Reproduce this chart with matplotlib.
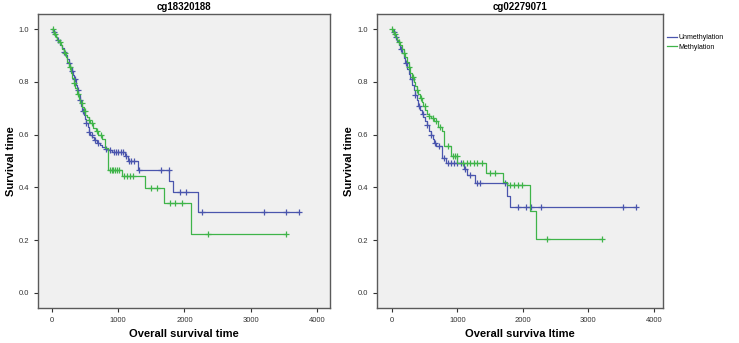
import numpy as np
import matplotlib
matplotlib.use("Agg")
import matplotlib.pyplot as plt

plt.rcParams['font.family'] = ['Liberation Sans', 'DejaVu Sans']

# ---- left panel: cg18320188 ----
l_unm_t = [15, 35, 55, 75, 100, 125, 150, 175, 200, 225, 250, 275, 300, 320, 340, 360, 380,
           400, 420, 440, 460, 480, 500, 520, 540, 555, 580, 610, 640, 680, 720, 760, 800,
           850, 900, 1100, 1150, 1300, 1770, 1820, 2200]
l_unm_s = [0.99, 0.98, 0.97, 0.96, 0.95, 0.94, 0.93, 0.915, 0.90, 0.885, 0.87, 0.855, 0.84,
           0.825, 0.81, 0.79, 0.77, 0.75, 0.73, 0.71, 0.69, 0.675, 0.66, 0.645, 0.63, 0.61,
           0.60, 0.59, 0.58, 0.57, 0.56, 0.555, 0.545, 0.54, 0.535, 0.52, 0.50, 0.465, 0.425,
           0.383, 0.308]
l_unm_c = [30, 90, 180, 260, 310, 350, 390, 430, 470, 520, 560, 600, 650, 700, 820, 880,
           930, 960, 1000, 1040, 1080, 1120, 1170, 1200, 1240, 1310, 1650, 1760, 1930, 2030,
           2270, 3200, 3530, 3730]

l_met_t = [15, 35, 55, 80, 105, 130, 155, 180, 205, 230, 255, 280, 305, 330, 355, 380, 405,
           430, 455, 480, 505, 530, 555, 580, 620, 660, 700, 750, 800, 850, 1050, 1400, 1690,
           2100]
l_met_s = [0.99, 0.98, 0.97, 0.96, 0.95, 0.94, 0.925, 0.91, 0.895, 0.875, 0.855, 0.835, 0.815,
           0.795, 0.775, 0.755, 0.735, 0.72, 0.705, 0.69, 0.675, 0.665, 0.655, 0.645, 0.625,
           0.615, 0.60, 0.585, 0.55, 0.467, 0.442, 0.398, 0.341, 0.224]
l_met_c = [10, 45, 120, 200, 270, 340, 400, 450, 500, 560, 610, 680, 740, 880, 900, 920,
           950, 980, 1010, 1090, 1130, 1180, 1220, 1500, 1580, 1780, 1860, 1960, 2350, 3530]

# ---- right panel: cg02279071 ----
r_unm_t = [15, 35, 55, 80, 105, 130, 155, 180, 205, 230, 255, 280, 305, 330, 355, 380, 405,
           430, 455, 480, 505, 530, 560, 590, 620, 650, 680, 760, 830, 1100, 1150, 1270, 1750,
           1810]
r_unm_s = [0.99, 0.98, 0.97, 0.955, 0.94, 0.925, 0.91, 0.89, 0.87, 0.85, 0.83, 0.81, 0.79,
           0.77, 0.75, 0.73, 0.71, 0.695, 0.68, 0.665, 0.65, 0.635, 0.615, 0.60, 0.585, 0.57,
           0.556, 0.51, 0.492, 0.47, 0.448, 0.417, 0.366, 0.325]
r_unm_c = [25, 70, 140, 220, 300, 360, 420, 470, 540, 600, 660, 720, 800, 860, 900, 950,
           1000, 1050, 1120, 1200, 1300, 1350, 1720, 1930, 2040, 2130, 2270, 3530, 3730]

r_met_t = [15, 35, 55, 80, 105, 130, 155, 180, 205, 230, 255, 280, 305, 330, 355, 380, 405,
           430, 455, 480, 505, 530, 560, 600, 650, 700, 760, 800, 900, 1000, 1430, 1700, 1760,
           2110, 2195]
r_met_s = [0.99, 0.98, 0.97, 0.96, 0.95, 0.94, 0.925, 0.91, 0.895, 0.875, 0.855, 0.835, 0.82,
           0.80, 0.785, 0.77, 0.755, 0.74, 0.725, 0.71, 0.695, 0.68, 0.67, 0.663, 0.65, 0.63,
           0.612, 0.556, 0.518, 0.492, 0.455, 0.42, 0.41, 0.31, 0.206]
r_met_c = [5, 45, 110, 190, 260, 320, 380, 440, 500, 560, 620, 680, 740, 860, 930, 960, 990,
           1080, 1150, 1200, 1250, 1300, 1380, 1500, 1580, 1800, 1860, 1920, 1980, 2370, 3210]

titles = ["cg18320188", "cg02279071"]
xlabels = ["Overall survival time", "Overall surviva ltime"]
group_names = ["Unmethylation", "Methylation"]
xticks = [0, 1000, 2000, 3000, 4000]
yticks = [0.0, 0.2, 0.4, 0.6, 0.8, 1.0]

blue = "#4a55ad"
green = "#3fb449"


def surv_at(times, surv, t):
    i = np.searchsorted(times, t, side="right")
    return 1.0 if i == 0 else surv[i - 1]


def km_plot(ax, times, surv, cens, color, label):
    times = np.array(times)
    surv = np.array(surv)
    end = max(max(cens), times[-1])
    xs = np.concatenate([[0], times, [end]])
    ys = np.concatenate([[1.0], surv, [surv[-1]]])
    ax.step(xs, ys, where="post", color=color, lw=0.9, label=label)
    cy = [surv_at(times, surv, c) for c in cens]
    ax.plot(cens, cy, ls="none", marker="+", ms=4, mew=0.9, color=color)


fig = plt.figure(figsize=(7.39, 3.43), dpi=100)
fig.patch.set_facecolor("white")
ax1 = fig.add_axes([0.0514, 0.102, 0.395, 0.857])
ax2 = fig.add_axes([0.510, 0.102, 0.387, 0.857])

km_plot(ax1, l_unm_t, l_unm_s, l_unm_c, blue, group_names[0])
km_plot(ax1, l_met_t, l_met_s, l_met_c, green, group_names[1])
km_plot(ax2, r_unm_t, r_unm_s, r_unm_c, blue, group_names[0])
km_plot(ax2, r_met_t, r_met_s, r_met_c, green, group_names[1])

ax1.set_xlim(-211, 4196)
ax2.set_xlim(-229, 4137)
for i, ax in enumerate([ax1, ax2]):
    ax.set_ylim(-0.057, 1.057)
    ax.set_facecolor("#f0f0f0")
    ax.set_xticks(xticks)
    ax.set_yticks(yticks)
    ax.set_yticklabels([f"{v:.1f}" for v in yticks])
    ax.tick_params(labelsize=5.5, colors="#333333", length=3, width=0.8)
    for sp in ax.spines.values():
        sp.set_color("#5a5a5a")
        sp.set_linewidth(1.0)
    ax.set_title(titles[i], fontsize=7, fontweight="bold", pad=3)
    ax.set_xlabel(xlabels[i], fontsize=8, fontweight="bold")
    ax.set_ylabel("Survival time", fontsize=8, fontweight="bold")
    ax.xaxis.set_label_coords(0.5, -0.072)

ax1.yaxis.set_label_coords(-0.077, 0.5)
ax2.yaxis.set_label_coords(-0.079, 0.5)

ax2.legend(loc="upper left", bbox_to_anchor=(1.005, 0.94), frameon=False, fontsize=5,
           handlelength=1.4, handletextpad=0.2, labelspacing=0.3, borderaxespad=0)

fig.savefig("out.png", dpi=100)
